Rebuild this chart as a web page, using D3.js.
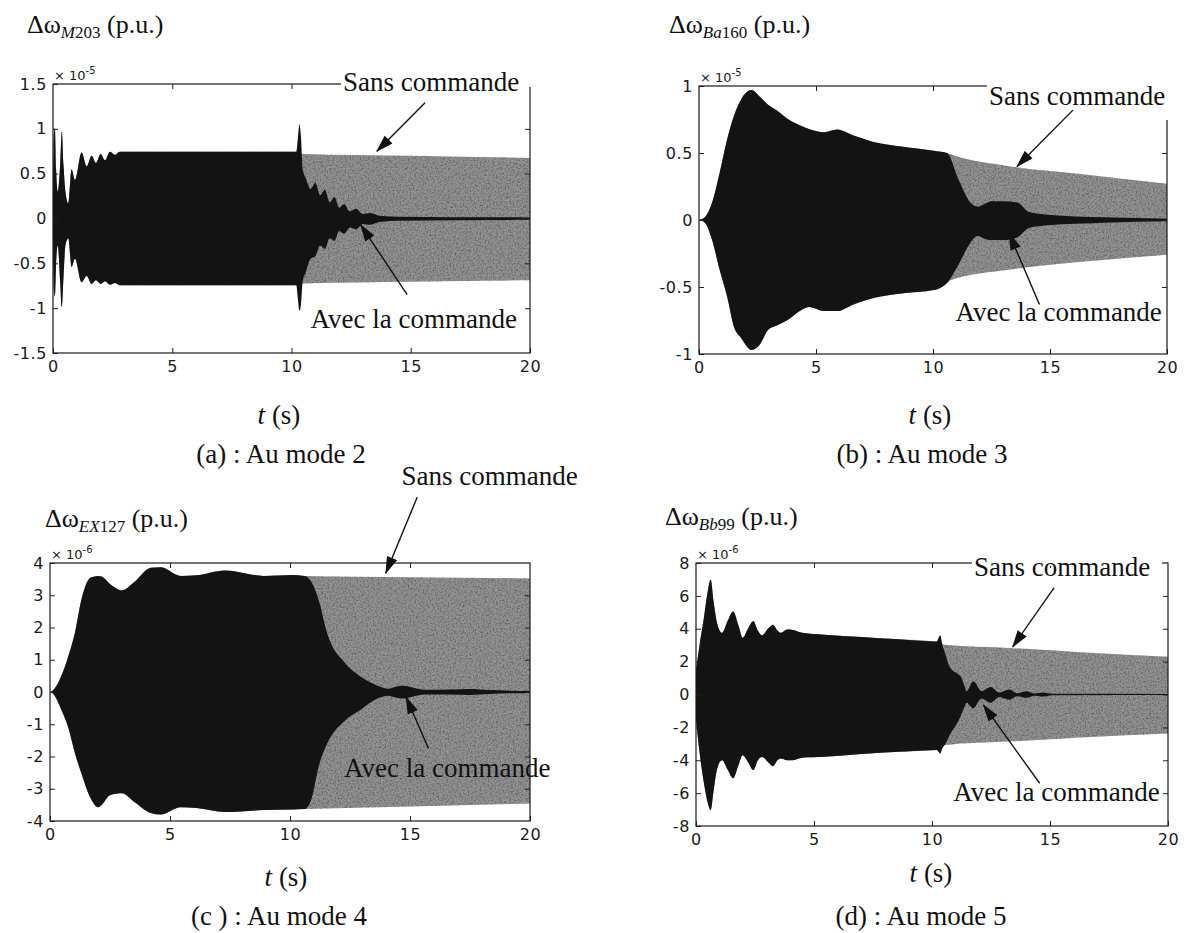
<!DOCTYPE html>
<html>
<head>
<meta charset="utf-8">
<script src="https://cdn.jsdelivr.net/npm/d3@7"></script>
<style>
  body { margin: 0; background: #fff; }
  svg { display: block; }
  .tick text { font-family: "DejaVu Sans", Arial, sans-serif; font-size: 16px; letter-spacing: 0.6px; fill: #1a1a1a; }
  .tick line { stroke: #222; stroke-width: 1; }
  .serif { font-family: "Liberation Serif", "Times New Roman", serif; fill: #111; }
  .mult { font-family: "DejaVu Sans", Arial, sans-serif; font-size: 13px; fill: #1a1a1a; }
</style>
</head>
<body>
<svg id="fig" width="1186" height="933"></svg>
<script>
// Shared time axis (s)
const timeTicks = [0, 5, 10, 15, 20];

// ---------- (a) mode 2 : Δω_M203, ×10^-5 ----------
const aTicks = [-1.5, -1, -0.5, 0, 0.5, 1, 1.5];
// common trajectory before the controller acts
const aCommonT  = [0, 0.04, 0.08, 0.13, 0.2, 0.3, 0.37, 0.44, 0.52, 0.64, 0.78, 0.92, 1.2, 1.41, 1.62, 1.8, 2.0, 2.18, 2.39, 2.6, 2.8, 4, 6, 8, 10, 10.2];
const aCommonHi = [0.28, 0.95, 1.01, 0.55, 0.30, 0.60, 0.97, 0.60, 0.30, 0.17, 0.55, 0.43, 0.735, 0.58, 0.70, 0.62, 0.72, 0.65, 0.745, 0.71, 0.745, 0.745, 0.745, 0.745, 0.745, 0.745];
const aCommonLo = [-0.28, -0.80, -0.87, -0.50, -0.30, -0.70, -0.99, -0.65, -0.30, -0.22, -0.54, -0.45, -0.71, -0.64, -0.73, -0.69, -0.73, -0.70, -0.74, -0.72, -0.745, -0.745, -0.745, -0.745, -0.745, -0.745];
// without control
const aSansT  = [10.2, 10.5, 15, 20];
const aSansHi = [0.745, 0.72, 0.70, 0.675];
const aSansLo = [-0.745, -0.725, -0.705, -0.69];
// with control
const aAvecT  = [10.2, 10.27, 10.33, 10.4, 10.47, 10.6, 10.8, 11.0, 11.2, 11.4, 11.6, 11.8, 12.0, 12.2, 12.45, 12.7, 13.0, 13.3, 13.7, 14.5, 20];
const aAvecHi = [0.745, 0.9, 1.05, 0.9, 0.55, 0.45, 0.33, 0.40, 0.26, 0.32, 0.18, 0.24, 0.12, 0.16, 0.08, 0.11, 0.05, 0.06, 0.03, 0.02, 0.012];
const aAvecLo = [-0.745, -0.9, -1.03, -0.95, -0.70, -0.60, -0.45, -0.42, -0.30, -0.34, -0.22, -0.25, -0.14, -0.17, -0.10, -0.12, -0.06, -0.07, -0.04, -0.025, -0.015];

// ---------- (b) mode 3 : Δω_Ba160, ×10^-5 ----------
const bTicks = [-1, -0.5, 0, 0.5, 1];
const bCommonT  = [0, 0.25, 0.56, 0.88, 1.2, 1.5, 1.8, 2.25, 2.6, 2.95, 3.3, 3.75, 4.4, 4.7, 5.35, 5.9, 6.6, 7.5, 8.55, 10.1, 10.6];
const bCommonHi = [0, 0.02, 0.13, 0.35, 0.60, 0.78, 0.90, 0.97, 0.92, 0.86, 0.82, 0.76, 0.70, 0.68, 0.655, 0.675, 0.63, 0.58, 0.55, 0.515, 0.50];
const bCommonLo = [0, -0.02, -0.15, -0.37, -0.57, -0.80, -0.88, -0.97, -0.93, -0.82, -0.79, -0.75, -0.67, -0.65, -0.68, -0.68, -0.63, -0.58, -0.55, -0.52, -0.47];
const bSansT  = [10.6, 10.75, 13.3, 16.5, 20];
const bSansHi = [0.50, 0.49, 0.40, 0.34, 0.27];
const bSansLo = [-0.47, -0.45, -0.37, -0.31, -0.26];
const bAvecT  = [10.6, 11.1, 11.6, 11.9, 12.2, 12.5, 13.0, 13.6, 14.1, 14.9, 17.3, 20];
const bAvecHi = [0.50, 0.30, 0.13, 0.10, 0.12, 0.14, 0.14, 0.13, 0.06, 0.04, 0.02, 0.01];
const bAvecLo = [-0.47, -0.33, -0.17, -0.12, -0.14, -0.15, -0.15, -0.13, -0.06, -0.04, -0.02, -0.01];

// ---------- (c) mode 4 : Δω_EX127, ×10^-6 ----------
const cTicks = [-4, -3, -2, -1, 0, 1, 2, 3, 4];
const cCommonT  = [0, 0.12, 0.5, 0.75, 1.06, 1.3, 1.7, 2.0, 2.15, 2.5, 3.0, 3.5, 4.2, 4.6, 5.45, 6.1, 7.3, 8.9, 10.1, 10.6];
const cCommonHi = [0, 0.05, 0.55, 1.08, 1.91, 2.84, 3.55, 3.60, 3.58, 3.35, 3.15, 3.40, 3.85, 3.87, 3.60, 3.62, 3.77, 3.60, 3.63, 3.60];
const cCommonLo = [0, -0.05, -0.60, -1.08, -1.95, -2.50, -3.30, -3.57, -3.50, -3.20, -3.14, -3.40, -3.75, -3.80, -3.57, -3.60, -3.72, -3.66, -3.64, -3.63];
const cSansT  = [10.6, 15, 20];
const cSansHi = [3.60, 3.56, 3.52];
const cSansLo = [-3.63, -3.55, -3.46];
const cAvecT  = [10.6, 10.9, 11.2, 11.55, 12.3, 12.95, 13.6, 14.1, 14.4, 14.75, 15.1, 15.6, 16.7, 17.5, 18.3, 20];
const cAvecHi = [3.60, 3.40, 2.84, 1.82, 0.89, 0.47, 0.21, 0.10, 0.16, 0.19, 0.14, 0.07, 0.08, 0.09, 0.06, 0.03];
const cAvecLo = [-3.63, -3.30, -2.30, -1.60, -0.88, -0.55, -0.22, -0.12, -0.17, -0.20, -0.15, -0.08, -0.08, -0.09, -0.06, -0.03];

// ---------- (d) mode 5 : Δω_Bb99, ×10^-6 ----------
const dTicks = [-8, -6, -4, -2, 0, 2, 4, 6, 8];
const dCommonT  = [0, 0.15, 0.35, 0.5, 0.62, 0.75, 0.9, 1.1, 1.35, 1.57, 1.8, 1.98, 2.2, 2.43, 2.62, 2.8, 3.05, 3.26, 3.45, 3.6, 3.85, 4.1, 4.5, 5.44, 7.0, 8.6, 10.2];
const dCommonHi = [1.5, 3.0, 4.8, 6.3, 7.0, 5.6, 4.3, 3.75, 4.5, 5.05, 4.2, 3.45, 4.0, 4.45, 3.9, 3.6, 4.0, 4.25, 3.9, 3.75, 3.95, 3.92, 3.75, 3.63, 3.5, 3.36, 3.22];
const dCommonLo = [-1.5, -3.5, -5.5, -6.6, -7.04, -5.8, -4.5, -4.0, -4.6, -5.1, -4.3, -3.7, -4.1, -4.6, -4.0, -3.8, -4.1, -4.36, -4.0, -3.9, -4.0, -4.0, -3.85, -3.79, -3.62, -3.49, -3.38];
const dSansT  = [10.2, 10.5, 13.4, 16.5, 20];
const dSansHi = [3.22, 3.02, 2.82, 2.55, 2.30];
const dSansLo = [-3.38, -3.08, -2.85, -2.60, -2.37];
const dAvecT  = [10.2, 10.28, 10.35, 10.43, 10.58, 10.74, 11.14, 11.22, 11.38, 11.46, 11.75, 12.1, 12.48, 12.85, 13.28, 13.6, 14.0, 14.35, 14.7, 15.1, 20];
const dAvecHi = [3.22, 3.45, 3.6, 3.1, 2.4, 1.7, 1.2, 1.1, 0.5, 0.2, 0.8, 0.2, 0.45, 0.12, 0.3, 0.08, 0.2, 0.06, 0.12, 0.04, 0.03];
const dAvecLo = [-3.38, -3.5, -3.6, -3.3, -2.98, -2.5, -1.55, -1.3, -0.74, -0.5, -0.84, -0.25, -0.5, -0.15, -0.32, -0.1, -0.2, -0.07, -0.12, -0.04, -0.03];

// ---------- text ----------
const sansLabel = "Sans commande";
const avecLabel = "Avec la commande";
const xLabel = "t";

// helper: zip time / upper / lower arrays into envelope points
function env(t, hi, lo) { return t.map((v, i) => ({ t: v, hi: hi[i], lo: lo[i] })); }

const panels = [
  { box: { l: 53, r: 530, t: 84, b: 353 }, dom: [-1.5, 1.5], ticks: aTicks, exp: "-5",
    sub: "M203", subItalic: 1, name: "(a) : Au mode 2",
    common: env(aCommonT, aCommonHi, aCommonLo), sans: env(aSansT, aSansHi, aSansLo), avec: env(aAvecT, aAvecHi, aAvecLo),
    yLab: { x: 27, y: 33 }, xLab: { x: 279, y: 424 }, cap: { x: 281, y: 463 },
    sansTxt: [12.16, 1.42], sansArrow: [[15.6, 1.29], [13.58, 0.75]], sansMask: 3,
    avecTxt: [10.8, -1.22], avecArrow: [[14.85, -0.85], [12.9, -0.07]] },
  { box: { l: 699, r: 1167, t: 86, b: 354 }, dom: [-1, 1], ticks: bTicks, exp: "-5",
    sub: "Ba160", subItalic: 2, name: "(b) : Au mode 3",
    common: env(bCommonT, bCommonHi, bCommonLo), sans: env(bSansT, bSansHi, bSansLo), avec: env(bAvecT, bAvecHi, bAvecLo),
    yLab: { x: 669, y: 33 }, xLab: { x: 930, y: 424 }, cap: { x: 922, y: 463 },
    sansTxt: [12.39, 0.86], sansArrow: [[15.98, 0.82], [13.59, 0.40]], sansMask: 34,
    avecTxt: [10.96, -0.75], avecArrow: [[14.55, -0.63], [13.25, -0.10]] },
  { box: { l: 50, r: 530, t: 563, b: 821 }, dom: [-4, 4], ticks: cTicks, exp: "-6",
    sub: "EX127", subItalic: 2, name: "(c ) : Au mode 4",
    common: env(cCommonT, cCommonHi, cCommonLo), sans: env(cSansT, cSansHi, cSansLo), avec: env(cAvecT, cAvecHi, cAvecLo),
    yLab: { x: 45, y: 527 }, xLab: { x: 286, y: 886 }, cap: { x: 279, y: 925 },
    sansTxt: [14.65, 6.41], sansArrow: [[15.3, 6.04], [13.99, 3.68]], sansMask: null,
    avecTxt: [12.25, -2.64], avecArrow: [[15.77, -1.75], [14.84, -0.16]] },
  { box: { l: 696, r: 1168, t: 563, b: 826 }, dom: [-8, 8], ticks: dTicks, exp: "-6",
    sub: "Bb99", subItalic: 2, name: "(d) : Au mode 5",
    common: env(dCommonT, dCommonHi, dCommonLo), sans: env(dSansT, dSansHi, dSansLo), avec: env(dAvecT, dAvecHi, dAvecLo),
    yLab: { x: 665, y: 525 }, xLab: { x: 931, y: 882 }, cap: { x: 921, y: 925 },
    sansTxt: [11.78, 7.23], sansArrow: [[15.17, 6.49], [13.42, 2.9]], sansMask: -8,
    avecTxt: [10.9, -6.46], avecArrow: [[14.56, -5.4], [12.18, -0.64]] }
];

const svg = d3.select("#fig");
const defs = svg.append("defs");

// scanned-print grain on the grey band
const grain = defs.append("filter").attr("id", "grain")
  .attr("x", "-5%").attr("y", "-5%").attr("width", "110%").attr("height", "110%");
grain.append("feTurbulence").attr("type", "fractalNoise").attr("baseFrequency", 0.6)
  .attr("numOctaves", 2).attr("seed", 4).attr("result", "noise");
grain.append("feColorMatrix").attr("in", "noise").attr("type", "matrix")
  .attr("values", "0 0 0 0 0  0 0 0 0 0  0 0 0 0 0  1.4 0 0 0 -0.55").attr("result", "dark");
grain.append("feComposite").attr("in", "dark").attr("in2", "SourceGraphic").attr("operator", "in").attr("result", "speck");
const gm = grain.append("feMerge");
gm.append("feMergeNode").attr("in", "SourceGraphic");
gm.append("feMergeNode").attr("in", "speck");

// arrowhead
defs.append("marker").attr("id", "head")
  .attr("viewBox", "0 0 16 10").attr("refX", 15).attr("refY", 5)
  .attr("markerWidth", 18).attr("markerHeight", 11).attr("markerUnits", "userSpaceOnUse")
  .attr("orient", "auto")
  .append("path").attr("d", "M0,0 L16,5 L0,10 Z").attr("fill", "#111");

panels.forEach((p, i) => {
  const { l, r, t, b } = p.box;
  const x = d3.scaleLinear().domain([0, 20]).range([l, r]);
  const y = d3.scaleLinear().domain(p.dom).range([b, t]);
  const g = svg.append("g");

  defs.append("clipPath").attr("id", "clip" + i)
    .append("rect").attr("x", l).attr("y", t).attr("width", r - l).attr("height", b - t);

  const area = d3.area().x(d => x(d.t)).y0(d => y(d.lo)).y1(d => y(d.hi)).curve(d3.curveMonotoneX);
  const sansSeries = p.common.concat(p.sans.slice(1));
  const avecSeries = p.common.concat(p.avec.slice(1));

  const plot = g.append("g").attr("clip-path", `url(#clip${i})`);
  plot.append("path").datum(sansSeries).attr("d", area).attr("fill", "#939393").attr("filter", "url(#grain)");
  plot.append("path").datum(avecSeries).attr("d", area).attr("fill", "#131313");

  // axes: ticks pointing inwards on all four sides
  g.append("g").attr("transform", `translate(0,${b})`)
    .call(d3.axisBottom(x).tickValues(timeTicks).tickSize(-5).tickSizeOuter(0).tickPadding(8).tickFormat(d3.format("d")))
    .call(s => s.select(".domain").remove());
  g.append("g").attr("transform", `translate(0,${t})`)
    .call(d3.axisTop(x).tickValues(timeTicks.slice(1, -1)).tickSize(-5).tickSizeOuter(0).tickFormat(""))
    .call(s => s.select(".domain").remove());
  g.append("g").attr("transform", `translate(${l},0)`)
    .call(d3.axisLeft(y).tickValues(p.ticks).tickSize(-5).tickSizeOuter(0).tickPadding(6).tickFormat(d => String(d)))
    .call(s => s.select(".domain").remove());
  g.append("g").attr("transform", `translate(${r},0)`)
    .call(d3.axisRight(y).tickValues(p.ticks.slice(1, -1)).tickSize(-5).tickSizeOuter(0).tickFormat(""))
    .call(s => s.select(".domain").remove());
  g.selectAll(".tick text").attr("font-family", null).attr("font-size", null);
  g.append("rect").attr("x", l).attr("y", t).attr("width", r - l).attr("height", b - t)
    .attr("fill", "none").attr("stroke", "#1a1a1a").attr("stroke-width", 1.2);

  // exponent marker
  const m = g.append("text").attr("class", "mult").attr("x", l + 1).attr("y", t - 4);
  m.append("tspan").text("× 10");
  m.append("tspan").attr("dy", -6).attr("font-size", 10).text(p.exp);

  // y label
  const yl = g.append("text").attr("class", "serif").attr("x", p.yLab.x).attr("y", p.yLab.y).attr("font-size", 26);
  yl.append("tspan").text("Δω");
  yl.append("tspan").attr("dy", 5).attr("font-size", 17).attr("font-style", "italic").text(p.sub.slice(0, p.subItalic));
  yl.append("tspan").attr("font-size", 17).text(p.sub.slice(p.subItalic));
  yl.append("tspan").attr("dy", -5).text(" (p.u.)");

  // x label and caption
  const xl = g.append("text").attr("class", "serif").attr("x", p.xLab.x).attr("y", p.xLab.y)
    .attr("font-size", 27).attr("text-anchor", "middle");
  xl.append("tspan").attr("font-style", "italic").text(xLabel);
  xl.append("tspan").text(" (s)");
  g.append("text").attr("class", "serif").attr("x", p.cap.x).attr("y", p.cap.y)
    .attr("font-size", 27).attr("text-anchor", "middle").text(p.name);

  // annotations
  const sTxt = g.append("text").attr("class", "serif").attr("font-size", 27)
    .attr("x", x(p.sansTxt[0])).attr("y", y(p.sansTxt[1])).text(sansLabel);
  if (p.sansMask !== null) {
    const bb = sTxt.node().getBBox();
    g.insert("rect", () => sTxt.node())
      .attr("x", bb.x - 2).attr("y", bb.y)
      .attr("width", (r + 2) - (bb.x - 2) + (p.sansMask < 0 ? p.sansMask : 0))
      .attr("height", (t + Math.max(p.sansMask, 3)) - bb.y)
      .attr("fill", "#fff");
  }
  g.append("text").attr("class", "serif").attr("font-size", 27)
    .attr("x", x(p.avecTxt[0])).attr("y", y(p.avecTxt[1])).text(avecLabel);

  [p.sansArrow, p.avecArrow].forEach(a => {
    g.append("line")
      .attr("x1", x(a[0][0])).attr("y1", y(a[0][1]))
      .attr("x2", x(a[1][0])).attr("y2", y(a[1][1]))
      .attr("stroke", "#111").attr("stroke-width", 1.4).attr("marker-end", "url(#head)");
  });
});
</script>
</body>
</html>
